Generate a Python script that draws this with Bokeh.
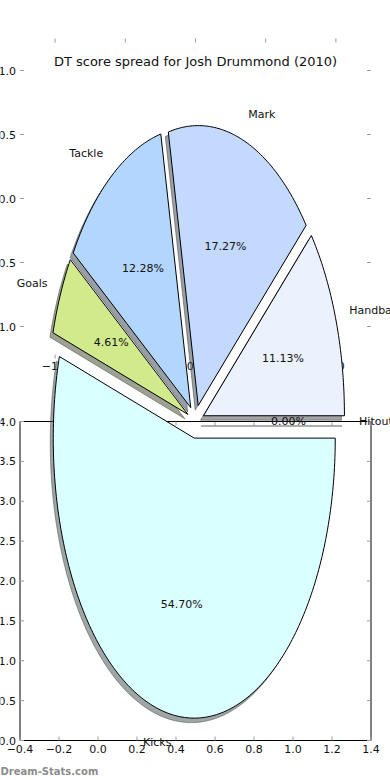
import numpy as np
from bokeh.plotting import figure
from bokeh.models import Range1d, Label, ColumnDataSource
from bokeh.core.properties import value
from bokeh.embed import file_html
from bokeh.resources import INLINE

# ---------------- data ----------------
slice_labels = ["Hitout", "Handball", "Mark", "Tackle", "Goals", "Kicks"]
slice_percents = [0.00, 11.13, 17.27, 12.28, 4.61, 54.70]
slice_explode = [0.06, 0.06, 0.06, 0.06, 0.06, 0.06]

title_text = "DT score spread for Josh Drummond (2010)"
watermark_text = "Dream-Stats.com"

pie_ticks = [-1.0, -0.5, 0.0, 0.5, 1.0]
pie_tick_labels = ["\u22121.0", "\u22120.5", "0.0", "0.5", "1.0"]

ax2_xticks = [-0.4, -0.2, 0.0, 0.2, 0.4, 0.6, 0.8, 1.0, 1.2, 1.4]
ax2_xtick_labels = ["\u22120.4", "\u22120.2", "0.0", "0.2", "0.4", "0.6", "0.8", "1.0", "1.2", "1.4"]
ax2_yticks = [0.0, 0.5, 1.0, 1.5, 2.0, 2.5, 3.0, 3.5, 4.0]
ax2_ytick_labels = ["0.0", "0.5", "1.0", "1.5", "2.0", "2.5", "3.0", "3.5", "4.0"]

# ---------------- style / layout ----------------
slice_colors = ["#F2F2F2", "#EBF2FE", "#C3D9FE", "#B3D6FE", "#D0EA8C", "#DAFFFF"]
FONT = "DejaVu Sans"
W, H, MARGIN = 390, 780, 0

# second (rectangular) axes, page pixels
AX2_L, AX2_R, AX2_T, AX2_B = 19.5, 370.5, 421.0, 740.0
AX2_X0, AX2_X1, AX2_Y0, AX2_Y1 = -0.4, 1.4, 0.0, 4.0
# pie axes, page pixels
PIE_L, PIE_R, PIE_T, PIE_B = 19.5, 370.5, 38.0, 358.0
PIE_LIM = 1.25
# pie geometry (center in axes-2 units, radii in px)
PIE_CX, PIE_CY = 0.5, 4.0
PIE_RX_PX, PIE_RY_PX = 141.0, 280.0
SHADOW_DX_PX, SHADOW_DY_PX = -3.0, 4.5
TICK = 4.0

sx2 = (AX2_R - AX2_L) / (AX2_X1 - AX2_X0)
sy2 = (AX2_B - AX2_T) / (AX2_Y1 - AX2_Y0)
x_start = AX2_X0 - (AX2_L - MARGIN) / sx2
y_start = AX2_Y0 - (MARGIN + H - AX2_B) / sy2

spx = (PIE_R - PIE_L) / (2 * PIE_LIM)
spy = (PIE_B - PIE_T) / (2 * PIE_LIM)
px_start = -PIE_LIM - (PIE_L - MARGIN) / spx
py_start = -PIE_LIM - (MARGIN + H - PIE_B) / spy

p = figure(width=W, height=H, output_backend="svg", toolbar_location=None,
           x_range=Range1d(x_start, x_start + W / sx2),
           y_range=Range1d(y_start, y_start + H / sy2),
           x_axis_type=None, y_axis_type=None, min_border=0,
           outline_line_color=None, background_fill_color="white",
           border_fill_color="white", title=None)
p.extra_x_ranges = {"pie": Range1d(px_start, px_start + W / spx)}
p.extra_y_ranges = {"pie": Range1d(py_start, py_start + H / spy)}

tick_color = "#9a9a9a"
pt = np.array(pie_ticks)
n = len(pt)
# pie axes ticks (top, bottom, left, right)
p.segment(x0=pt, x1=pt, y0=[PIE_LIM] * n, y1=[PIE_LIM - TICK / spy] * n,
          x_range_name="pie", y_range_name="pie", line_color=tick_color, line_width=1)
p.segment(x0=pt, x1=pt, y0=[-PIE_LIM] * n, y1=[-PIE_LIM + TICK / spy] * n,
          x_range_name="pie", y_range_name="pie", line_color=tick_color, line_width=1)
p.segment(x0=[-PIE_LIM] * n, x1=[-PIE_LIM + TICK / spx] * n, y0=pt, y1=pt,
          x_range_name="pie", y_range_name="pie", line_color=tick_color, line_width=1)
p.segment(x0=[PIE_LIM] * n, x1=[PIE_LIM - TICK / spx] * n, y0=pt, y1=pt,
          x_range_name="pie", y_range_name="pie", line_color=tick_color, line_width=1)
# pie axes tick labels
p.text(x=pt, y=[-PIE_LIM] * n, text=pie_tick_labels, x_range_name="pie", y_range_name="pie",
       text_align="center", text_baseline="middle", y_offset=7,
       text_font=value(FONT), text_font_size="11px", text_color="#111111")
p.text(x=[-PIE_LIM] * n, y=pt, text=pie_tick_labels, x_range_name="pie", y_range_name="pie",
       text_align="right", text_baseline="middle", x_offset=-4,
       text_font=value(FONT), text_font_size="11px", text_color="#111111")

# second axes frame, ticks and labels
p.quad(left=[AX2_X0], right=[AX2_X1], bottom=[AX2_Y0], top=[AX2_Y1],
       fill_color=None, line_color="black", line_width=1)
xt = np.array(ax2_xticks)
yt = np.array(ax2_yticks)
p.segment(x0=xt, x1=xt, y0=[AX2_Y0] * len(xt), y1=[AX2_Y0 + TICK / sy2] * len(xt),
          line_color=tick_color, line_width=1)
p.segment(x0=xt, x1=xt, y0=[AX2_Y1] * len(xt), y1=[AX2_Y1 - TICK / sy2] * len(xt),
          line_color=tick_color, line_width=1)
p.segment(x0=[AX2_X0] * len(yt), x1=[AX2_X0 + TICK / sx2] * len(yt), y0=yt, y1=yt,
          line_color=tick_color, line_width=1)
p.segment(x0=[AX2_X1] * len(yt), x1=[AX2_X1 - TICK / sx2] * len(yt), y0=yt, y1=yt,
          line_color=tick_color, line_width=1)
p.text(x=xt, y=[AX2_Y0] * len(xt), text=ax2_xtick_labels, text_align="center",
       text_baseline="middle", y_offset=8, text_font=value(FONT), text_font_size="11px",
       text_color="#111111")
p.text(x=[AX2_X0] * len(yt), y=yt, text=ax2_ytick_labels, text_align="right",
       text_baseline="middle", x_offset=-4, text_font=value(FONT), text_font_size="11px",
       text_color="#111111")

# ---------------- pie ----------------
RX = PIE_RX_PX / sx2
RY = PIE_RY_PX / sy2
SDX = SHADOW_DX_PX / sx2
SDY = -SHADOW_DY_PX / sy2

fr = np.array(slice_percents) / np.sum(slice_percents)
bounds = np.concatenate([[0.0], np.cumsum(fr)]) * 2 * np.pi

wx, wy, sxs, sys_ = [], [], [], []
lab_l, lab_r, pct = {"x": [], "y": [], "t": []}, {"x": [], "y": [], "t": []}, {"x": [], "y": [], "t": []}
shadow_cols = []
for i, lab in enumerate(slice_labels):
    t1, t2 = bounds[i], bounds[i + 1]
    tm = 0.5 * (t1 + t2)
    cx = PIE_CX + slice_explode[i] * RX * np.cos(tm)
    cy = PIE_CY + slice_explode[i] * RY * np.sin(tm)
    ang = np.linspace(t1, t2, max(2, int(np.degrees(t2 - t1)) + 2))
    xs = np.concatenate([[cx], cx + RX * np.cos(ang)])
    ys = np.concatenate([[cy], cy + RY * np.sin(ang)])
    wx.append(list(xs)); wy.append(list(ys))
    sxs.append(list(xs + SDX)); sys_.append(list(ys + SDY))
    c = slice_colors[i].lstrip("#")
    rgb = [int(c[k:k + 2], 16) for k in (0, 2, 4)]
    shadow_cols.append("#%02x%02x%02x" % tuple(int(0.3 * v) for v in rgb))
    lx = cx + 1.1 * RX * np.cos(tm)
    ly = cy + 1.1 * RY * np.sin(tm)
    d = lab_l if lx > cx else lab_r
    d["x"].append(lx); d["y"].append(ly); d["t"].append(lab)
    pct["x"].append(cx + 0.6 * RX * np.cos(tm))
    pct["y"].append(cy + 0.6 * RY * np.sin(tm))
    pct["t"].append("%.2f%%" % slice_percents[i])

p.patches(xs=sxs, ys=sys_, fill_color=shadow_cols, line_color=shadow_cols,
          fill_alpha=0.5, line_alpha=0.5, line_width=1)
p.patches(xs=wx, ys=wy, fill_color=slice_colors, line_color="black", line_width=1)

p.text(x="x", y="y", text="t", source=ColumnDataSource(lab_l), text_align="left",
       text_baseline="middle", text_font=value(FONT), text_font_size="11px", text_color="#111111")
p.text(x="x", y="y", text="t", source=ColumnDataSource(lab_r), text_align="right",
       text_baseline="middle", text_font=value(FONT), text_font_size="11px", text_color="#111111")
p.text(x="x", y="y", text="t", source=ColumnDataSource(pct), text_align="center",
       text_baseline="middle", text_font=value(FONT), text_font_size="11px", text_color="#111111")

# title and watermark
p.add_layout(Label(x=195 - MARGIN, y=H - (61 - MARGIN), x_units="screen", y_units="screen",
                   text=title_text, text_align="center", text_baseline="middle",
                   text_font=FONT, text_font_size="13px", text_color="#111111"))
p.add_layout(Label(x=0, y=H - 776, x_units="screen", y_units="screen", text=watermark_text,
                   text_align="left", text_baseline="bottom", text_font=FONT,
                   text_font_size="10px", text_font_style="bold", text_color="#8c8c8c"))

open("out.html", "w").write(file_html(p, INLINE))
